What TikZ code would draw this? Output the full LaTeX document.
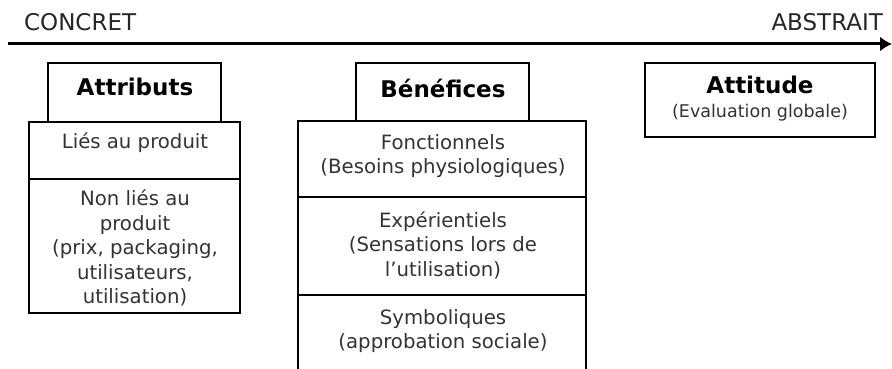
\documentclass[tikz,border=0pt]{standalone}
\usepackage{fontspec}
\setmainfont{DejaVu Sans}
\usetikzlibrary{arrows.meta}
\begin{document}
\begin{tikzpicture}[x=1pt,y=-1pt,line width=1.6pt,
  axe/.style={font=\fontsize{23}{26}\selectfont,text=black!85},
  titre/.style={font=\fontsize{23}{26}\selectfont\bfseries},
  texte/.style={font=\fontsize{19.7}{24.5}\selectfont,align=center,text=black!80},
  petit/.style={font=\fontsize{17.5}{20}\selectfont,text=black!80}]
  \useasboundingbox (0,0) rectangle (892,369);
  \node[axe,anchor=west] (concret) at (20,22) {CONCRET};
  \node[axe,anchor=east] (abstrait) at (887,22) {ABSTRAIT};
  \coordinate (debut) at (8,44);
  \coordinate (fin) at (892,44);
  \draw[line width=3pt,-{Latex[length=12pt,width=15pt]}] (debut) -- (fin);
  % attributs
  \draw (48,63) rectangle (221,122);
  \draw (29,122) rectangle (240,313);
  \draw (29,179) -- (240,179);
  \node[titre] (attributs) at (135,87) {Attributs};
  \node[texte] (lies) at (135,143) {Liés au produit};
  \node[texte] (nonlies) at (135,248) {Non liés au\\produit\\(prix, packaging,\\utilisateurs,\\utilisation)};
  % benefices
  \draw (356,63) rectangle (529,121);
  \draw (298,369) -- (298,121) -- (586,121) -- (586,369);
  \draw (298,197) -- (586,197);
  \draw (298,295) -- (586,295);
  \node[titre] (benefices) at (443,88) {Bénéfices};
  \node[texte] (fonct) at (443,156) {Fonctionnels\\(Besoins physiologiques)};
  \node[texte] (exper) at (443,245) {Expérientiels\\(Sensations lors de\\l’utilisation)};
  \node[texte] (symb) at (443,331) {Symboliques\\(approbation sociale)};
  % attitude
  \draw (645,63) rectangle (875,137);
  \node[titre] (attitude) at (760,85) {Attitude};
  \node[petit] (evaluation) at (760,113) {(Evaluation globale)};
\end{tikzpicture}
\end{document}
